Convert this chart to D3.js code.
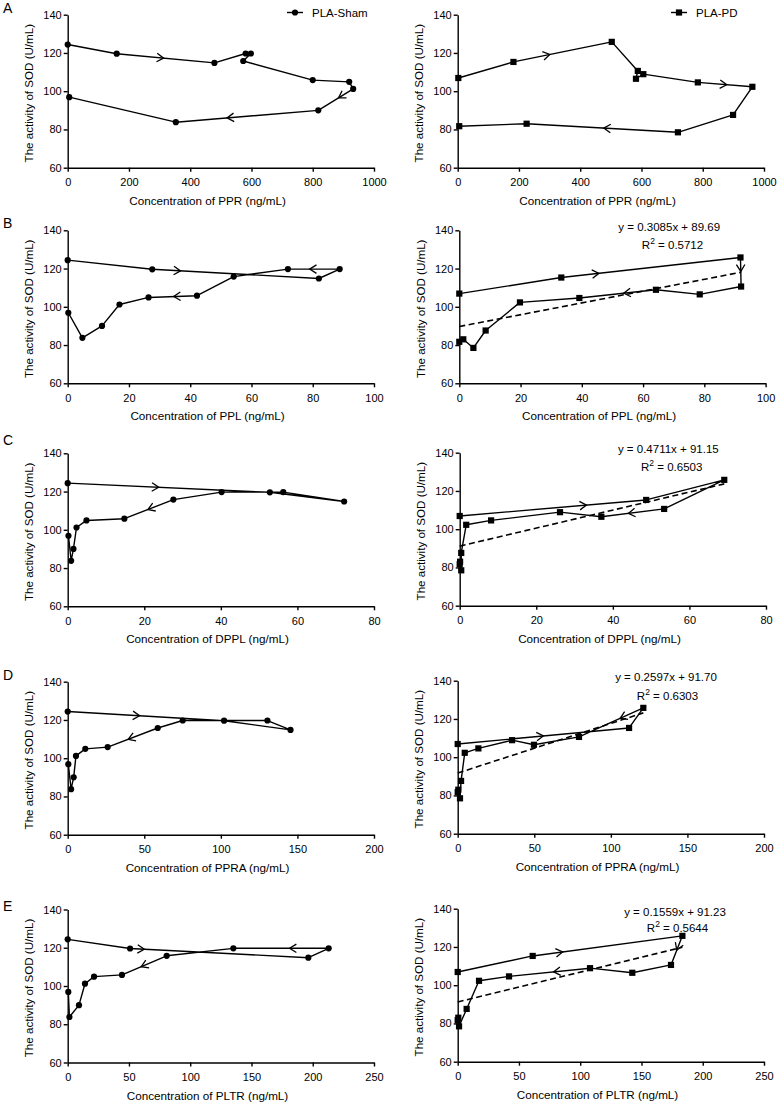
<!DOCTYPE html>
<html><head><meta charset="utf-8">
<script src="https://cdn.jsdelivr.net/npm/d3@7/dist/d3.min.js"></script>
<style>
body{margin:0;background:#fff}
svg{display:block}
text{font-family:Arial,"Liberation Sans",sans-serif;fill:#000}
</style>
</head><body><svg id="chart" width="778" height="1102"></svg>
<script>
// ---- data ----
const sodSham = [124.4, 119.6, 114.8, 119.7, 119.7, 115.8, 105.8, 104.9, 101.2, 90.0, 83.8, 96.9];
const sodPD   = [106.9, 115.3, 125.8, 110.6, 106.5, 108.9, 104.6, 102.3, 87.6, 78.5, 83.0, 81.7];

const pprSham  = [0, 160, 479, 581, 598, 573, 800, 919, 932, 818, 353, 5];
const pprPD    = [2, 182, 503, 588, 582, 606, 784, 962, 899, 719, 225, 5];
const pplSham  = [0, 27.6, 82.0, 88.8, 71.9, 54.2, 42.2, 26.4, 16.9, 11.2, 4.8, 0.2];
const pplPD    = [0, 33.3, 91.8, 92.0, 78.5, 64.2, 39.2, 19.8, 8.6, 4.6, 1.3, 0];
const dpplSham = [0, 52.8, 72.2, 56.3, 40.2, 27.6, 14.8, 4.9, 2.3, 1.5, 0.9, 0.2];
const dpplPD   = [0, 48.7, 69.1, 53.4, 37.0, 26.2, 8.2, 1.7, 0.4, 0.4, 0.1, 0];
const ppraSham = [0, 102.1, 145.5, 130.4, 75.1, 58.8, 26.1, 11.5, 5.4, 3.9, 2.2, 0.4];
const ppraPD   = [0, 111.9, 121.2, 79.2, 49.8, 35.5, 13.5, 4.6, 2.2, 1.5, 0.4, 0];
const pltrSham = [0, 50.9, 196.4, 213, 135.2, 80.8, 44.3, 21.5, 14.1, 9.2, 1.4, 0.5];
const pltrPD   = [0, 61.2, 183.4, 174.1, 142.5, 108, 41.9, 17.4, 7.3, 1.1, 0.5, 0];

const analytes = ["PPR", "PPL", "DPPL", "PPRA", "PLTR"];
const panelLetters = ["A", "B", "C", "D", "E"];
const xMax = [1000, 100, 80, 200, 250];
const xStep = [200, 20, 20, 50, 50];
const yTicks = [60, 80, 100, 120, 140];
const legendLabels = ["PLA-Sham", "PLA-PD"];

// linear fits for PLA-PD (panels B-E)
const fitSlope     = [null, 0.3085, 0.4711, 0.2597, 0.1559];
const fitIntercept = [null, 89.69, 91.15, 91.70, 91.23];
const fitR2        = [null, "0.5712", "0.6503", "0.6303", "0.5644"];

// direction arrows: [segment index, fraction along segment]
const arrowsSham = [
  [[1,0.48],[8,0.42],[9,0.64]],
  [[1,0.17],[3,0.58],[6,0.48]],
  [[0,0.45],[5,0.52]],
  [[0,0.46],[5,0.59]],
  [[1,0.08],[3,0.41],[5,0.57]]
];
const arrowsPD = [
  [[1,0.37],[6,0.53],[9,0.49]],
  [[1,0.21],[2,0.48],[5,0.42]],
  [[0,0.68],[3,0.57]],
  [[0,0.50],[2,0.36]],
  [[1,0.20],[2,0.49],[5,0.45]]
];

const xsSham = [pprSham, pplSham, dpplSham, ppraSham, pltrSham];
const xsPD   = [pprPD, pplPD, dpplPD, ppraPD, pltrPD];

// ---- layout ----
const W = 306.3, H = 153;
const tops  = [[14.7,14.7],[230.3,230.3],[453.3,452.7],[681.7,680.7],[909.5,908.7]];
const lefts = [[67.7,457.7],[67.7,459.3],[67.7,459.7],[67.7,457.7],[67.7,457.7]];
const letterY = [12.5, 228, 445, 680, 911];
const eqPos = [null, [[669.2,230.5],[672.5,249]], [[668.3,452.5],[671.7,471]], [[666,681],[667.5,700]], [[675,915.5],[677.5,931.5]]];

const svg = d3.select("#chart");

function drawPanel(row, col) {
  const left = lefts[row][col], top = tops[row][col];
  const g = svg.append("g").attr("transform", `translate(${left},${top})`);
  const x = d3.scaleLinear().domain([0, xMax[row]]).range([0, W]);
  const y = d3.scaleLinear().domain([60, 140]).range([H, 0]);
  const xs = col === 0 ? xsSham[row] : xsPD[row];
  const ys = col === 0 ? sodSham : sodPD;
  const pts = xs.map((v, i) => [x(v), y(ys[i])]);

  // axes
  const xAxis = d3.axisBottom(x).tickValues(d3.range(0, xMax[row] + 1e-9, xStep[row]))
    .tickSize(4).tickSizeOuter(0).tickPadding(6.5).tickFormat(d3.format("d"));
  const yAxis = d3.axisLeft(y).tickValues(yTicks).tickSize(4).tickSizeOuter(0).tickPadding(2);
  const gx = g.append("g").attr("transform", `translate(0,${H})`).call(xAxis);
  const gy = g.append("g").call(yAxis);
  [gx, gy].forEach(a => {
    a.selectAll("path,line").attr("stroke", "#000").attr("stroke-width", 1.4);
    a.selectAll("text").attr("font-size", 11).attr("font-family", "Arial, 'Liberation Sans', sans-serif").attr("fill", "#000");
  });

  // titles
  g.append("text").attr("x", 139.8).attr("y", H + 37).attr("text-anchor", "middle")
    .attr("font-size", 11.7).text(`Concentration of ${analytes[row]} (ng/mL)`);
  g.append("text").attr("transform", `translate(-34.5,${H / 2 + 2}) rotate(-90)`)
    .attr("text-anchor", "middle").attr("font-size", 11.6).text("The activity of SOD (U/mL)");

  // fit line
  if (col === 1 && fitSlope[row] !== null) {
    const x0 = d3.min(xs), x1 = d3.max(xs);
    g.append("line")
      .attr("x1", x(x0)).attr("y1", y(fitIntercept[row] + fitSlope[row] * x0))
      .attr("x2", x(x1)).attr("y2", y(fitIntercept[row] + fitSlope[row] * x1))
      .attr("stroke", "#000").attr("stroke-width", 1.6).attr("stroke-dasharray", "6,3.5");
  }

  // path
  g.append("path").attr("d", d3.line()(pts)).attr("fill", "none")
    .attr("stroke", "#000").attr("stroke-width", 1.4).attr("stroke-linejoin", "round");

  // arrows (open chevrons)
  const arr = col === 0 ? arrowsSham[row] : arrowsPD[row];
  const L = 8, th = 32 * Math.PI / 180;
  arr.forEach(([s, t]) => {
    const a = pts[s], b = pts[s + 1];
    const px = a[0] + t * (b[0] - a[0]), py = a[1] + t * (b[1] - a[1]);
    const ang = Math.atan2(b[1] - a[1], b[0] - a[0]);
    const p1 = [px - L * Math.cos(ang - th), py - L * Math.sin(ang - th)];
    const p2 = [px - L * Math.cos(ang + th), py - L * Math.sin(ang + th)];
    g.append("path").attr("d", `M${p1[0]},${p1[1]}L${px},${py}L${p2[0]},${p2[1]}`)
      .attr("fill", "none").attr("stroke", "#000").attr("stroke-width", 1.3);
  });

  // markers
  if (col === 0) {
    g.selectAll("circle.m").data(pts).enter().append("circle")
      .attr("cx", d => d[0]).attr("cy", d => d[1]).attr("r", 3.1).attr("fill", "#000");
  } else {
    const s = 6.2;
    g.selectAll("rect.m").data(pts).enter().append("rect")
      .attr("x", d => d[0] - s / 2).attr("y", d => d[1] - s / 2).attr("width", s).attr("height", s).attr("fill", "#000");
  }

  // legend (row A)
  if (row === 0) {
    const lx = col === 0 ? 219.3 : 213.3;
    const ly = -2.2;
    g.append("line").attr("x1", lx).attr("x2", lx + 16).attr("y1", ly).attr("y2", ly)
      .attr("stroke", "#000").attr("stroke-width", 1.4);
    if (col === 0) g.append("circle").attr("cx", lx + 8).attr("cy", ly).attr("r", 3.1).attr("fill", "#000");
    else g.append("rect").attr("x", lx + 8 - 3.1).attr("y", ly - 3.1).attr("width", 6.2).attr("height", 6.2).attr("fill", "#000");
    g.append("text").attr("x", lx + 25).attr("y", ly + 4).attr("font-size", 11.5).text(legendLabels[col]);
  }

  // equations
  if (col === 1 && fitSlope[row] !== null) {
    const [e1, e2] = eqPos[row];
    svg.append("text").attr("x", e1[0]).attr("y", e1[1]).attr("text-anchor", "middle").attr("font-size", 11.5)
      .text(`y = ${fitSlope[row].toFixed(4)}x + ${fitIntercept[row].toFixed(2)}`);
    const t2 = svg.append("text").attr("x", e2[0]).attr("y", e2[1]).attr("text-anchor", "middle").attr("font-size", 11.5);
    t2.append("tspan").text("R");
    t2.append("tspan").attr("dy", -5).attr("font-size", 8.5).text("2");
    t2.append("tspan").attr("dy", 5).text(` = ${fitR2[row]}`);
  }
}

for (let r = 0; r < 5; r++) {
  svg.append("text").attr("x", 3).attr("y", letterY[r]).attr("font-size", 14).text(panelLetters[r]);
  drawPanel(r, 0);
  drawPanel(r, 1);
}
</script>
</body></html>
